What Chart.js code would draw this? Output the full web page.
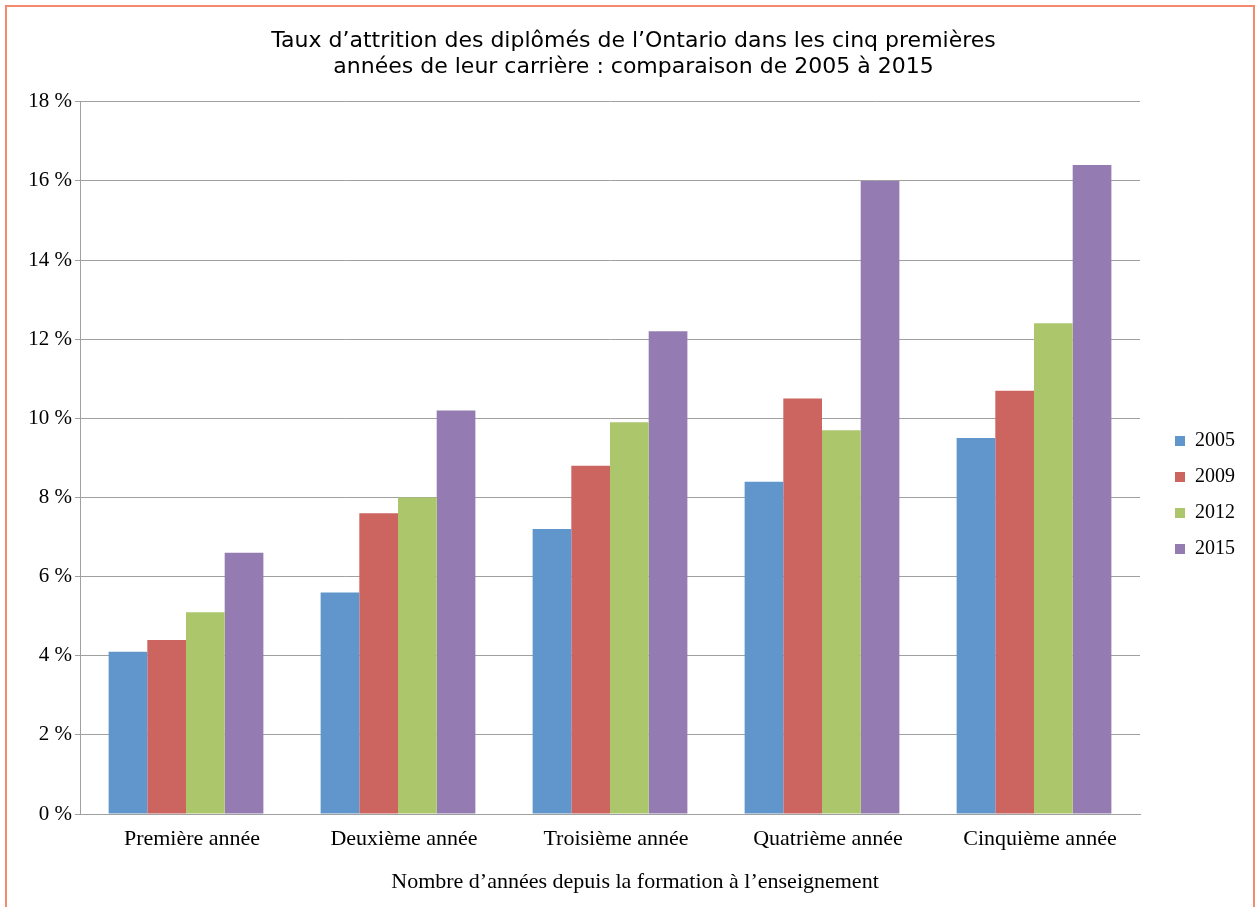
<!DOCTYPE html>
<html>
<head>
<meta charset="utf-8">
<script src="https://cdn.jsdelivr.net/npm/chart.js@4/dist/chart.umd.min.js"></script>
<style>
  html, body { margin: 0; padding: 0; background: #fff; overflow: hidden; }
  #wrap { position: absolute; left: 5px; top: 5px; width: 1246px; height: 920px; border: 2px solid #F4896E; }
  canvas { display: block; }
</style>
</head>
<body>
<div id="wrap"><canvas id="c" width="1246" height="918"></canvas></div>
<script>
const titleLines = ["Taux d\u2019attrition des dipl\u00f4m\u00e9s de l\u2019Ontario dans les cinq premi\u00e8res", "ann\u00e9es de leur carri\u00e8re : comparaison de 2005 \u00e0 2015"];
const xAxisTitle = "Nombre d\u2019ann\u00e9es depuis la formation \u00e0 l\u2019enseignement";
const categories = ["Premi\u00e8re ann\u00e9e", "Deuxi\u00e8me ann\u00e9e", "Troisi\u00e8me ann\u00e9e", "Quatri\u00e8me ann\u00e9e", "Cinqui\u00e8me ann\u00e9e"];
const seriesNames = ["2005", "2009", "2012", "2015"];
const values2005 = [4.1, 5.6, 7.2, 8.4, 9.5];
const values2009 = [4.4, 7.6, 8.8, 10.5, 10.7];
const values2012 = [5.1, 8.0, 9.9, 9.7, 12.4];
const values2015 = [6.6, 10.2, 12.2, 16.0, 16.4];
const yMin = 0, yMax = 18, yStep = 2;

const colors = ["#6096CB", "#CC6560", "#ACC66C", "#947CB2"];
const allValues = [values2005, values2009, values2012, values2015];
const serif = "'Liberation Serif', 'Times New Roman', serif";

const shiftPlugin = {
  id: 'shiftPlugin',
  afterLayout(chart) {
    const l = chart.legend;
    if (l) { l.left += 19; l.right += 19; l.top += 29; l.bottom += 29; }
    const t = chart.titleBlock;
    if (t) { t.left += 17; t.right += 17; }
    const s = chart.scales.x;
    if (s && !s._titleShifted) {
      const orig = s.drawTitle.bind(s);
      s.drawTitle = function () { this.ctx.save(); this.ctx.translate(25, 0); orig(); this.ctx.restore(); };
      s._titleShifted = true;
    }
  }
};

new Chart(document.getElementById('c'), {
  type: 'bar',
  data: {
    labels: categories,
    datasets: seriesNames.map((n, i) => ({
      label: n,
      data: allValues[i],
      backgroundColor: colors[i],
      borderWidth: 0,
      categoryPercentage: 0.73,
      barPercentage: 1.0
    }))
  },
  options: {
    responsive: false,
    devicePixelRatio: 1,
    animation: false,
    layout: { padding: { top: 0, left: 0, right: 27, bottom: 0 } },
    plugins: {
      title: {
        display: true,
        text: titleLines,
        color: '#000',
        font: { family: "'DejaVu Sans', Verdana, sans-serif", size: 22, weight: 'normal', lineHeight: 1.2 },
        padding: { top: 21, bottom: 21 }
      },
      legend: {
        display: true,
        position: 'right',
        labels: {
          boxWidth: 10, boxHeight: 10, padding: 16,
          color: '#000',
          font: { family: serif, size: 20 }
        }
      },
      tooltip: { enabled: false }
    },
    scales: {
      x: {
        grid: { display: false },
        border: { display: true, color: '#A0A0A0', width: 1 },
        ticks: { color: '#000', font: { family: serif, size: 22 }, padding: 4, labelOffset: 6, maxRotation: 0 },
        title: { display: true, text: xAxisTitle, color: '#000', font: { family: serif, size: 22 }, padding: { top: 0, bottom: 30 } },
        afterFit(s) { s.height = 111; }
      },
      y: {
        min: yMin, max: yMax,
        ticks: { stepSize: yStep, color: '#000', font: { family: serif, size: 21 }, padding: 3, callback: v => v + ' %' },
        grid: { color: '#A0A0A0', lineWidth: 1, tickLength: 5, drawTicks: true },
        border: { display: true, color: '#A0A0A0', width: 1 },
        afterFit(s) { s.width = 73; }
      }
    }
  },
  plugins: [shiftPlugin]
});
</script>
</body>
</html>
